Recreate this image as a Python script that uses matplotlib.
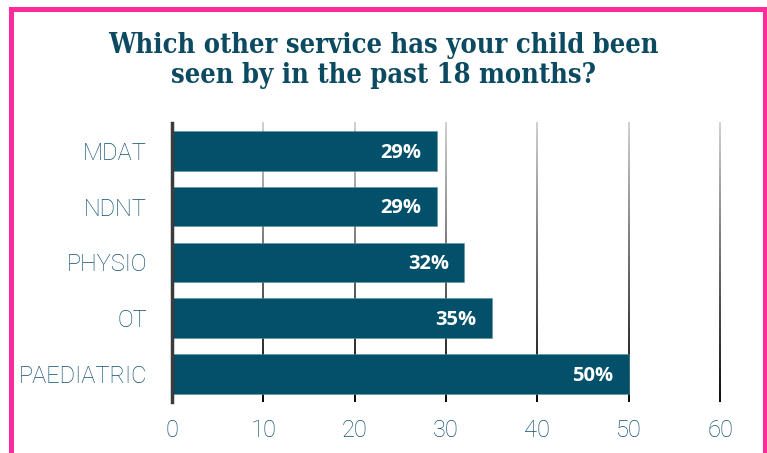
import matplotlib
matplotlib.use("Agg")
import matplotlib.pyplot as plt
from matplotlib.patches import Rectangle
import numpy as np

services = ["MDAT", "NDNT", "PHYSIO", "OT", "PAEDIATRIC"]
shares = [29, 29, 32, 35, 50]
x_ticks = [0, 10, 20, 30, 40, 50, 60]

BAR = "#02506a"
LABEL = "#0f4f6e"
TITLE = "#0c4a62"
PINK = "#ff2a9c"

fig = plt.figure(figsize=(7.67, 4.53), dpi=100)
ax = fig.add_axes([0.2243, 0.1126, 0.7145, 0.616])

y = np.arange(len(services))
ax.barh(y, shares, height=0.71, color=BAR, edgecolor="#5f8ea1",
        linewidth=0.4, zorder=3)
for yi, v in zip(y, shares):
    ax.text(v - 1.7, yi + 0.03, f"{v}%", ha="right", va="center",
            color="white", fontsize=14.5, fontweight="bold",
            family="Open Sans", zorder=4)

# vertical grid lines fading from light grey at the top to black at the bottom
ramp = np.linspace(0.82, 0.05, 256).reshape(-1, 1)
half = 0.1
for xt in x_ticks[1:]:
    ax.imshow(ramp, cmap="gray", vmin=0, vmax=1, aspect="auto",
              extent=(xt - half, xt + half, 4.5, -0.5),
              interpolation="bilinear", zorder=1, clip_on=False)

ax.set_xlim(0, 60)
ax.set_ylim(4.5, -0.5)
ax.set_yticks(y)
ax.set_yticklabels(services)
ax.set_xticks(x_ticks)
ax.tick_params(axis="both", length=0, colors=LABEL, labelsize=17)
ax.tick_params(axis="y", pad=18)
ax.tick_params(axis="x", pad=12)
for lab in ax.get_xticklabels() + ax.get_yticklabels():
    lab.set_fontfamily("Roboto")
    lab.set_fontweight("light")

for side in ["top", "right", "bottom"]:
    ax.spines[side].set_visible(False)
ax.spines["left"].set_color("#3c3c3c")
ax.spines["left"].set_linewidth(2.5)
ax.spines["left"].set_zorder(5)

title_lines = ["Which other service has your child been",
               "seen by in the past 18 months?"]
for line, yb in zip(title_lines, [0.883, 0.817]):
    fig.text(0.5, yb, line, ha="center", va="baseline", color=TITLE,
             fontsize=19.5, fontweight="bold", family="DejaVu Serif",
             fontstretch="condensed")

fig.patches.append(Rectangle((10.5 / 767, -0.05), 754 / 767, 1.05 - 9.5 / 453,
                             transform=fig.transFigure, fill=False,
                             edgecolor=PINK, linewidth=3.6))

fig.savefig("out.png", dpi=100, facecolor="white")
